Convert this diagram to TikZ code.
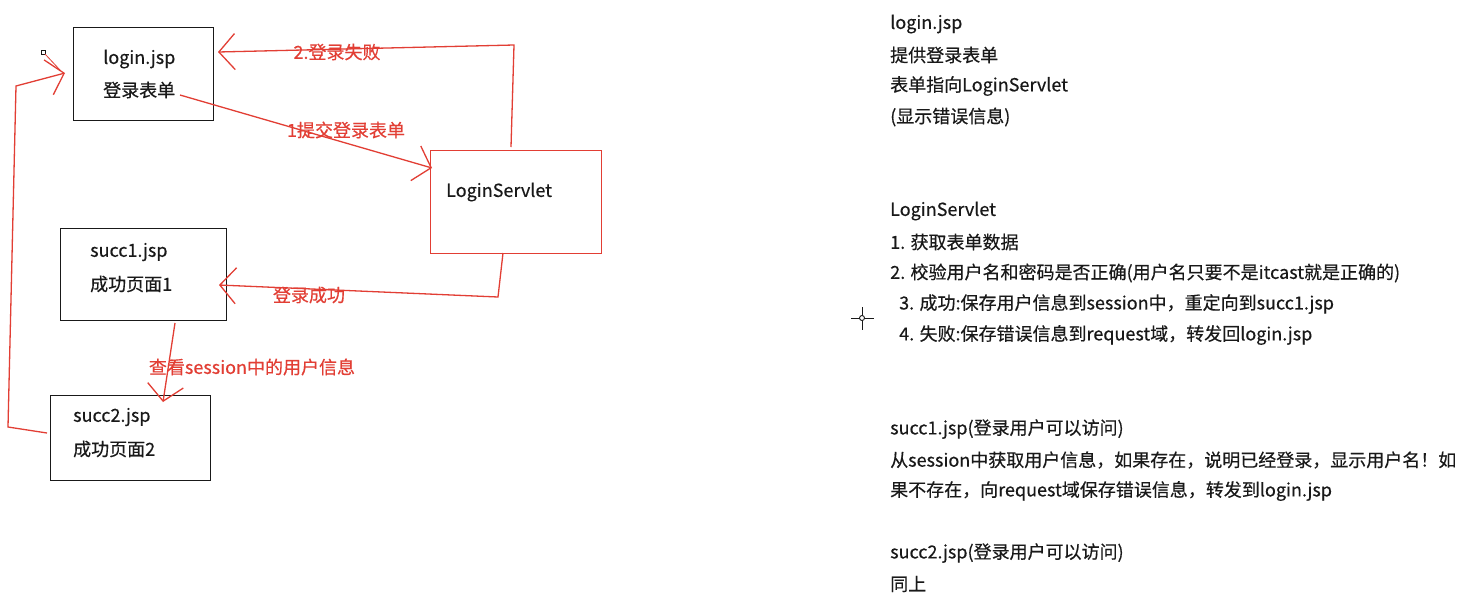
\documentclass[tikz,border=0pt]{standalone}
\usepackage{fontspec}
\setmainfont[FakeBold=0.4]{Noto Sans CJK SC}
\usetikzlibrary{arrows.meta}
\definecolor{pen}{RGB}{226,62,52}
\definecolor{ink}{RGB}{25,25,25}
\begin{document}
\begin{tikzpicture}[x=1pt,y=-1pt,
  txt/.style={font=\fontsize{18}{22}\selectfont, anchor=west, inner sep=0pt, text=ink},
  lbl/.style={font=\fontsize{18}{22}\selectfont, inner sep=0pt, text=pen},
  bbox/.style={draw=ink, line width=1.4pt, inner sep=0pt, anchor=north west},
  rline/.style={draw=pen, line width=1.3pt},
  head/.style={-{Straight Barb[length=16pt,width=36pt,line width=1.3pt]}}
]
\fill[white] (0,0) rectangle (1470,598);
\useasboundingbox (0,0) rectangle (1470,598);

% boxes
\node[bbox, minimum width=140pt, minimum height=93pt] (login) at (73,27) {};
\node[bbox, minimum width=166pt, minimum height=92pt] (succ1) at (60,228) {};
\node[bbox, minimum width=160pt, minimum height=85pt] (succ2) at (50,395) {};
\node[bbox, draw=pen, minimum width=171pt, minimum height=103pt] (servlet) at (430,150) {};

% box texts
\node[txt] (l1) at (103,59) {login.jsp};
\node[txt] (l2) at (103,90) {登录表单};
\node[txt] (s1a) at (90,252) {succ1.jsp};
\node[txt] (s1b) at (90,284) {成功页面1};
\node[txt] (s2a) at (73,417) {succ2.jsp};
\node[txt] (s2b) at (73,449) {成功页面2};
\node[txt] (sv) at (446,192) {LoginServlet};

% connector points
\coordinate (fA) at (511,147);
\coordinate (fB) at (514,45);
\coordinate (fT) at (218,52);
\coordinate (uA) at (180,95);
\coordinate (uT) at (432,168);
\coordinate (cA) at (503,253);
\coordinate (cB) at (498,297);
\coordinate (cT) at (219,285);
\coordinate (vA) at (175,323);
\coordinate (vT) at (163,402);
\coordinate (bA) at (47,433);
\coordinate (bB) at (8,427);
\coordinate (bC) at (16,86);
\coordinate (bT) at (65,73);

% connectors
\draw[rline,head] (fA) -- (fB) -- (fT);
\draw[rline,head] (uA) -- (uT);
\draw[rline,head] (cA) -- (cB) -- (cT);
\draw[rline,head] (vA) -- (vT);
\draw[rline,head] (bA) -- (bB) -- (bC) -- (bT);

% connector labels
\node[lbl] (lf) at (337,52) {2.登录失败};
\node[lbl] (lu) at (346,130) {1提交登录表单};
\node[lbl] (lc) at (309,295) {登录成功};
\node[lbl] (lv) at (252,367) {查看session中的用户信息};

% cursor artifacts
\draw[ink, line width=0.6pt] (41,50) rectangle (45,54);
\draw[pen, line width=0.8pt] (45,54) -- (60,70);
\draw[ink, line width=0.9pt] (862,307) -- (862,330) (851,318) -- (874,318);
\draw[ink, line width=0.9pt, fill=white] (862,318) circle (2.5);

% notes
\node[txt] (n1) at (890,24) {login.jsp};
\node[txt] (n2) at (890,55) {提供登录表单};
\node[txt] (n3) at (890,86) {表单指向LoginServlet};
\node[txt] (n4) at (890,117) {(显示错误信息)};
\node[txt] (n5) at (890,211) {LoginServlet};
\node[txt] (n6) at (890,242) {1. 获取表单数据};
\node[txt] (n7) at (890,273) {2. 校验用户名和密码是否正确(用户名只要不是itcast就是正确的)};
\node[txt] (n8) at (899,304) {3. 成功:保存用户信息到session中，重定向到succ1.jsp};
\node[txt] (n9) at (899,335) {4. 失败:保存错误信息到request域，转发回login.jsp};
\node[txt] (n10) at (890,429) {succ1.jsp(登录用户可以访问)};
\node[txt] (n11) at (890,460) {从session中获取用户信息，如果存在，说明已经登录，显示用户名！如};
\node[txt] (n12) at (890,491) {果不存在，向request域保存错误信息，转发到login.jsp};
\node[txt] (n13) at (890,553) {succ2.jsp(登录用户可以访问)};
\node[txt] (n14) at (890,584) {同上};
\end{tikzpicture}
\end{document}
